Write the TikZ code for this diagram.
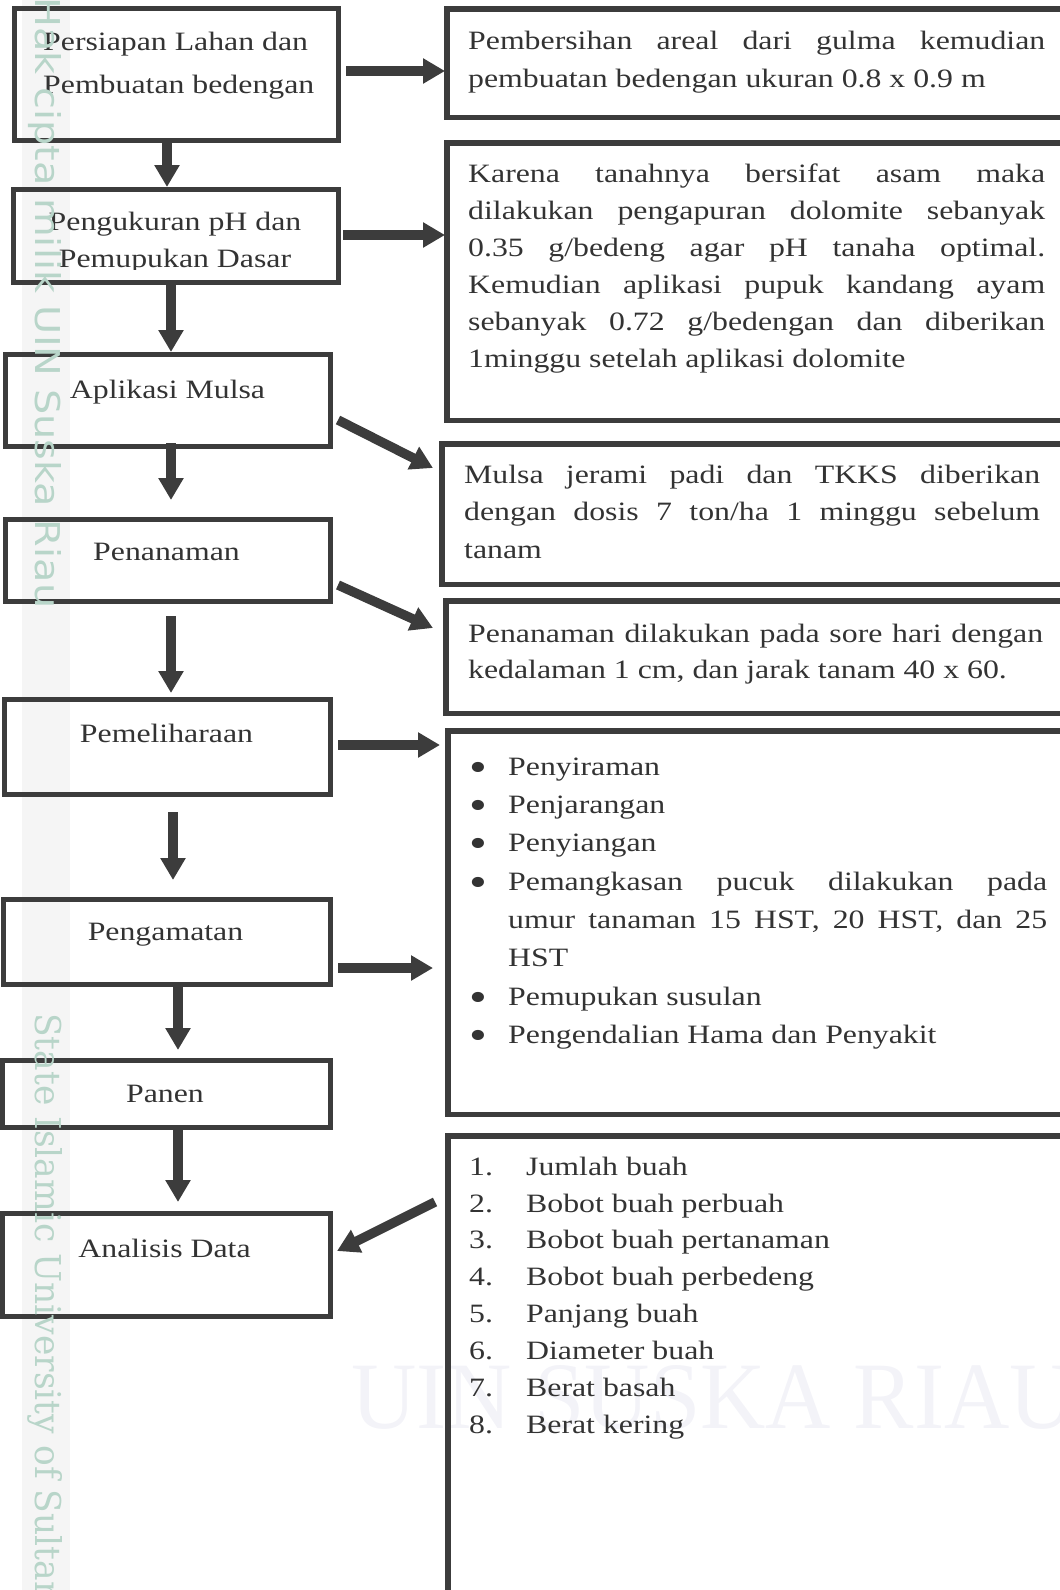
\documentclass[tikz,border=0pt]{standalone}
\usepackage{fontspec}
\setmainfont{Liberation Serif}[FakeStretch=1.2]
\newfontfamily\wmsans{DejaVu Sans}
\newfontfamily\wmserif{DejaVu Serif}
\usepackage{graphicx}
\usetikzlibrary{arrows.meta,fit}
\definecolor{lc}{HTML}{3C3C3C}
\definecolor{tc}{HTML}{333333}
\definecolor{wmc}{RGB}{184,213,201}
\definecolor{wmbig}{RGB}{243,243,248}
\definecolor{bandc}{RGB}{245,245,245}
\newcommand\jline[2]{\makebox[#1][s]{\spaceskip=0pt\xspaceskip=0pt\relax #2}}
\newcommand\nsp{\spaceskip=0pt\xspaceskip=0pt\relax}
\newcommand\bul{\makebox[39pt][l]{\raisebox{-6pt}{\scalebox{1.6}{•}}}}
\begin{document}
\begin{tikzpicture}[x=1pt,y=-1pt,
  lbox/.style={draw=lc, line width=5pt, inner sep=0pt},
  rbox/.style={draw=lc, line width=5.5pt, inner sep=0pt},
  arr/.style={draw=lc, line width=9.5pt, -{Triangle[length=22pt,width=24pt]}},
  lbl/.style={text=tc, inner sep=0pt, font=\fontsize{26.5}{37}\selectfont},
  blk/.style={lbl, text width=620pt, align=left, anchor=north west},
  wm/.style={text=wmc, inner sep=0pt, rotate=-90, anchor=base west}
]
\useasboundingbox (0,0) rectangle (1060,1590);
\clip (0,0) rectangle (1060,1590);
\fill[bandc] (22,0) rectangle (70,1590);
\node[text=wmbig, inner sep=0pt, anchor=base west] (wmbig) at (351,1428)
  {\resizebox{724pt}{63pt}{UIN SUSKA RIAU}};

% left boxes
\node[lbox, fit={(14.5,8.5) (338.5,140.5)}] (b1) {};
\node[lbox, fit={(13.5,189.5) (338.5,282.5)}] (b2) {};
\node[lbox, fit={(5.5,354.5) (330.5,446.5)}] (b3) {};
\node[lbox, fit={(5.5,519.5) (330.5,601.5)}] (b4) {};
\node[lbox, fit={(4.5,699.5) (330.5,794.5)}] (b5) {};
\node[lbox, fit={(3.5,899.5) (330.5,984.5)}] (b6) {};
\node[lbox, fit={(2.5,1060.5) (330.5,1127.5)}] (b7) {};
\node[lbox, fit={(2.5,1213.5) (330.5,1316.5)}] (b8) {};

% right boxes
\node[rbox, fit={(446.75,8.75) (1070,117.25)}] (rb1) {};
\node[rbox, fit={(446.75,142.75) (1070,420.25)}] (rb2) {};
\node[rbox, fit={(441.75,443.75) (1070,584.25)}] (rb3) {};
\node[rbox, fit={(445.75,600.75) (1070,713.25)}] (rb4) {};
\node[rbox, fit={(447.75,730.75) (1070,1114.25)}] (rb5) {};
\node[rbox, fit={(447.75,1135.75) (1070,1610)}] (rb6) {};

% vertical arrows
\draw[arr] ([xshift=-9.5pt]b1.south) -- ([xshift=-9pt]b2.north);
\draw[arr] ([xshift=-5pt]b2.south) -- ([xshift=3pt]b3.north);
\draw[arr] ([xshift=3pt,yshift=6pt]b3.south) -- ([xshift=3pt,yshift=17pt]b4.north);
\draw[arr] ([xshift=3pt,yshift=-12pt]b4.south) -- ([xshift=3.5pt,yshift=4pt]b5.north);
\draw[arr] ([xshift=5.5pt,yshift=-15pt]b5.south) -- ([xshift=6pt,yshift=17pt]b6.north);
\draw[arr] ([xshift=11pt]b6.south) -- ([xshift=11.5pt,yshift=8pt]b7.north);
\draw[arr] ([xshift=11.5pt]b7.south) -- ([xshift=11.5pt,yshift=9pt]b8.north);

% side arrows
\draw[arr] ([xshift=5pt,yshift=3.5pt]b1.east) -- ([xshift=1pt,yshift=-8pt]rb1.west);
\draw[arr] ([xshift=2pt,yshift=1pt]b2.east) -- ([xshift=1pt,yshift=46.5pt]rb2.west);
\draw[arr] ([xshift=5pt,yshift=-19.5pt]b3.east) -- ([xshift=-6pt,yshift=46pt]rb3.west);
\draw[arr] ([xshift=5pt,yshift=-24.5pt]b4.east) -- ([xshift=-10pt,yshift=29pt]rb4.west);
\draw[arr] ([xshift=5pt,yshift=2pt]b5.east) -- ([xshift=-5pt,yshift=177.5pt]rb5.west);
\draw[arr] ([xshift=5pt,yshift=-26pt]b6.east) -- ([xshift=-12pt,yshift=-45.5pt]rb5.west);
\draw[arr] ([xshift=-10pt,yshift=170.9pt]rb6.west) -- ([xshift=4pt,yshift=14pt]b8.east);

% left texts
\node[blk, font=\fontsize{26.5}{43}\selectfont] (t1) at (43,19.9)
  {\nsp\strut Persiapan Lahan dan\\Pembuatan bedengan};
\begin{scope}
\clip (16,192) rectangle (336,269);
\node[lbl, align=center, anchor=north] (t2) at (175,204.1)
  {\nsp\strut Pengukuran pH dan\\Pemupukan Dasar};
\end{scope}
\node[lbl, anchor=base] (t3) at (167.5,398) {Aplikasi Mulsa};
\node[lbl, anchor=base] (t4) at (166.5,560) {Penanaman};
\node[lbl, anchor=base] (t5) at (166.5,742) {Pemeliharaan};
\node[lbl, anchor=base] (t6) at (165.5,940) {Pengamatan};
\node[lbl, anchor=base] (t7) at (165,1102) {Panen};
\node[lbl, anchor=base] (t8) at (164.5,1257) {Analisis Data};

% right texts
\node[blk, font=\fontsize{26.5}{38}\selectfont] (r1) at (468,22.4)
  {\nsp\strut\jline{577pt}{Pembersihan areal dari gulma kemudian}\\
   pembuatan bedengan ukuran 0.8 x 0.9 m};
\node[blk, font=\fontsize{26.5}{37}\selectfont] (r2) at (468,156.1)
  {\nsp\strut\jline{577pt}{Karena tanahnya bersifat asam maka}\\
   \jline{577pt}{dilakukan pengapuran dolomite sebanyak}\\
   \jline{577pt}{0.35 g/bedeng agar pH tanaha optimal.}\\
   \jline{577pt}{Kemudian aplikasi pupuk kandang ayam}\\
   \jline{577pt}{sebanyak 0.72 g/bedengan dan diberikan}\\
   1minggu setelah aplikasi dolomite};
\node[blk, font=\fontsize{26.5}{37.5}\selectfont] (r3) at (464,456.75)
  {\nsp\strut\jline{576pt}{Mulsa jerami padi dan TKKS diberikan}\\
   \jline{576pt}{dengan dosis 7 ton/ha 1 minggu sebelum}\\
   tanam};
\node[blk, font=\fontsize{26.5}{36}\selectfont] (r4) at (468,616.8)
  {\nsp\strut\jline{575pt}{Penanaman dilakukan pada sore hari dengan}\\
   kedalaman 1 cm, dan jarak tanam 40 x 60.};
\node[blk, font=\fontsize{26.5}{38.3}\selectfont] (r5) at (469,748.2)
  {\nsp\strut\bul Penyiraman\\
   \bul Penjarangan\\
   \bul Penyiangan\\
   \bul\jline{539pt}{Pemangkasan pucuk dilakukan pada}\\
   \hspace*{39pt}\jline{539pt}{umur tanaman 15 HST, 20 HST, dan 25}\\
   \hspace*{39pt}HST\\
   \bul Pemupukan susulan\\
   \bul Pengendalian Hama dan Penyakit};
\node[blk, font=\fontsize{26.5}{36.86}\selectfont] (r6) at (469,1149.2)
  {\nsp\strut\makebox[57pt][l]{1.}Jumlah buah\\
   \makebox[57pt][l]{2.}Bobot buah perbuah\\
   \makebox[57pt][l]{3.}Bobot buah pertanaman\\
   \makebox[57pt][l]{4.}Bobot buah perbedeng\\
   \makebox[57pt][l]{5.}Panjang buah\\
   \makebox[57pt][l]{6.}Diameter buah\\
   \makebox[57pt][l]{7.}Berat basah\\
   \makebox[57pt][l]{8.}Berat kering};

% watermark side texts
\node[wm] (wm1) at (35,-3) {\resizebox{611pt}{26pt}{\wmsans Hak cipta milik UIN Suska Riau}};
\node[wm] (wm2) at (35,1013) {\resizebox{590pt}{27pt}{\wmserif State Islamic University of Sultan}};
\end{tikzpicture}
\end{document}
